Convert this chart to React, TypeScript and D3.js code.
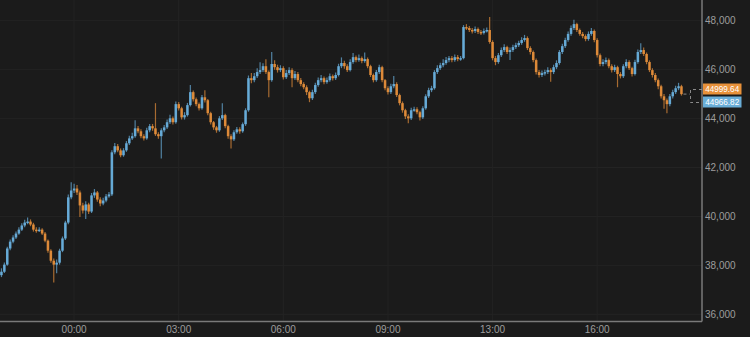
import React from "react";
import * as d3 from "d3";

const closes = [
  37740,38030,38690,38970,39140,39300,39460,39630,39750,39790,
  39670,39460,39420,39460,39300,39010,38600,38190,38030,38110,
  38600,39100,39750,40780,41060,41140,40980,40450,40240,40490,
  40200,40860,40980,40690,40530,40650,40820,40900,42620,42870,
  42700,42500,42700,42990,43190,43280,43600,43480,43280,43190,
  43520,43690,43600,43360,43280,43520,43640,43850,44010,43850,
  44590,44420,44050,44140,44550,45080,44790,44590,44420,44870,
  44750,44220,43850,43640,43520,44010,44140,43690,43280,43150,
  43440,43560,43480,43770,44340,45650,45570,45730,45900,45980,
  46140,45900,45570,46230,46100,45980,46060,45690,45860,45980,
  45650,45820,45570,45410,45280,45080,44830,45080,45370,45570,
  45650,45490,45570,45730,45650,45780,46140,46270,46140,45980,
  46310,46510,46390,46470,46350,46430,46140,45780,45570,45900,
  46100,45570,45240,45080,45320,45410,44960,44630,44340,44090,
  44010,44340,44380,44260,44050,44420,44910,45160,45240,45900,
  46060,46180,46270,46390,46470,46390,46510,46430,46470,47740,
  47700,47620,47580,47660,47540,47500,47580,47620,47130,46470,
  46310,46590,46800,46920,46720,46800,46920,47000,47090,47210,
  47290,46880,46720,46390,45900,45780,45860,45900,45980,45900,
  46100,46270,46720,46960,47210,47460,47700,47860,47620,47460,
  47370,47250,47460,47580,47210,46590,46230,46310,46390,46140,
  45980,46100,45820,45730,46140,46310,46060,45820,46310,46720,
  46800,46640,46310,45980,45780,45570,45320,44910,44750,44590,
  44910,45080,45240,45320,44999.64,
];

const firstOpen = 37600;

const highs = [
  37880,38120,38760,39060,39230,39380,39560,39720,39860,39960,
  39880,39740,39560,39560,39520,39360,39060,38660,38280,38240,
  38680,39180,39820,40900,41400,41340,41280,41060,40560,40620,
  40560,40960,41120,41040,40780,40760,40920,41000,42700,43000,
  42960,42780,42790,43080,43300,43420,43930,43700,43560,43360,
  43620,43780,43780,44630,43440,43600,43740,43960,44160,44080,
  44700,44680,44480,44260,44640,45370,45150,44860,44660,44960,
  45160,44800,44280,43900,43700,44100,44630,44200,43750,43360,
  43520,43660,43640,43840,44420,45760,45860,45860,46060,46300,
  46260,46420,45960,46720,46380,46200,46180,46140,45980,46100,
  46060,45940,45900,45660,45480,45360,45140,45180,45460,45680,
  45780,45720,45680,45840,45800,45880,46240,46500,46360,46220,
  46420,46680,46580,46620,46540,46700,46500,46200,45840,45980,
  46200,46160,45620,45320,45420,45740,45480,45020,44700,44400,
  44180,44440,44480,44460,44320,44500,44990,45260,45340,45980,
  46180,46280,46420,46520,46560,46560,46620,46600,46560,47820,
  47860,47780,47700,47760,47720,47620,47680,47720,48150,47200,
  46560,46680,46900,47040,46980,46900,47020,47100,47180,47320,
  47420,47360,46960,46780,46460,45980,45960,46000,46100,46060,
  46200,46380,46800,47060,47300,47560,47800,48040,47920,47680,
  47540,47440,47560,47700,47640,47280,46660,46420,46500,46460,
  46220,46200,46160,45900,46220,46420,46380,46120,46400,46820,
  47080,46900,46700,46380,46060,45860,45640,45380,45000,44820,
  45000,45180,45340,45460,45380,
];

const lows = [
  37520,37690,37980,38620,38900,39080,39250,39400,39560,39680,
  39600,39380,39330,39360,39240,38940,38520,38110,37300,37680,
  38030,38540,39040,39680,40700,40960,40880,39980,40120,39900,
  40100,40140,40760,40600,40420,40460,40580,40760,40840,42540,
  42620,42420,42440,42640,42920,43120,43220,43400,43200,43100,
  43130,43440,43500,43290,43180,42370,43440,43570,43780,43760,
  43790,44330,43960,43960,44080,44490,44700,44500,44330,44360,
  44660,44140,43760,43540,43420,43460,43940,43600,43180,42780,
  43080,43380,43380,43420,43700,44280,45440,45480,45660,45820,
  45900,45820,44870,45500,46000,45880,45900,45600,45620,45780,
  45280,45580,45480,45320,45200,44960,44670,44760,45000,45300,
  45480,45400,45420,45500,45560,45580,45720,46060,46040,45900,
  45920,46240,46300,46320,46260,46280,46060,45700,45480,45500,
  45820,45480,45160,44980,45000,45240,44880,44540,44240,43980,
  43810,43940,44280,44180,43920,43980,44360,44840,45080,45180,
  45820,45980,46100,46200,46300,46300,46320,46340,46360,46420,
  47620,47540,47480,47500,47460,47420,47440,47520,47060,46380,
  46180,46240,46520,46720,46640,46390,46720,46840,46920,47020,
  47140,46800,46620,46300,45800,45680,45700,45760,45820,45500,
  45820,46020,46200,46640,46880,47140,47380,47620,47540,47380,
  47280,47160,47180,47380,47120,46500,46140,46140,46220,46060,
  45880,45900,45280,45640,45660,46060,45980,45720,45760,46240,
  46640,46560,46220,45900,45680,45480,45200,44820,44400,44220,
  44500,44820,45000,45160,44940,
];

const yTicks = [36000, 38000, 40000, 42000, 44000, 46000, 48000];
const xTickIndex = [25, 61, 97, 133, 169, 205];
const xTickLabels = ["00:00", "03:00", "06:00", "09:00", "13:00", "16:00"];
const lastPrice = 44999.64;
const secondPrice = 44966.82;

const W = 750;
const H = 337;
const UP = "#68aedb";
const DOWN = "#e38d3a";

export default function App() {
  const n = closes.length;
  const opens = closes.map((c, i) => (i === 0 ? firstOpen : closes[i - 1]));
  const x = d3.scaleBand<number>().domain(d3.range(n)).range([0, n * 2.906]).paddingInner(0.12).paddingOuter(0.06);
  const y = d3.scaleLinear().domain([36000, 48000]).range([314.3, 20.7]);
  const bw = x.bandwidth();
  const cx = (i: number) => (x(i) as number) + bw / 2;
  const axisX = 702;
  const axisY = 321.5;
  const fmt = d3.format(",");
  const lastX = cx(n - 1);
  const lastY = y(lastPrice);

  return (
    <svg width={W} height={H} style={{ position: "fixed", left: 0, top: 0, background: "#1b1b1b" }}
      fontFamily="'Liberation Sans', Arial, Helvetica, sans-serif">
      <rect x={0} y={0} width={W} height={H} fill="#1b1b1b" />
      {yTicks.map((t) => (
        <line key={"gy" + t} x1={0} x2={axisX} y1={y(t)} y2={y(t)} stroke="#232323" strokeWidth={1} />
      ))}
      {xTickIndex.map((k) => (
        <line key={"gx" + k} x1={cx(k)} x2={cx(k)} y1={0} y2={axisY} stroke="#232323" strokeWidth={1} />
      ))}
      {closes.map((c, i) => {
        const o = opens[i];
        const up = c >= o;
        const col = up ? UP : DOWN;
        const hi = Math.max(highs[i], o, c);
        const lo = Math.min(lows[i], o, c);
        const top = y(Math.max(o, c));
        const bot = y(Math.min(o, c));
        return (
          <g key={i}>
            <line x1={cx(i)} x2={cx(i)} y1={y(hi)} y2={y(lo)} stroke={col} strokeOpacity={0.7} strokeWidth={1.2} />
            <rect x={cx(i) - bw / 2} y={top} width={bw} height={Math.max(1.5, bot - top)} fill={col} fillOpacity={0.95} />
          </g>
        );
      })}
      <line x1={axisX} x2={axisX} y1={0} y2={axisY} stroke="#7a7a7a" strokeWidth={1.5} />
      <line x1={0} x2={axisX} y1={axisY} y2={axisY} stroke="#7a7a7a" strokeWidth={1.5} />
      {yTicks.map((t) => (
        <text key={"ty" + t} x={705} y={y(t)} dy="0.35em" fontSize={10} fill="#9d9d9d">{fmt(t)}</text>
      ))}
      {xTickIndex.map((k, j) => (
        <text key={"tx" + k} x={cx(k)} y={332.5} textAnchor="middle" fontSize={10} fill="#9d9d9d">{xTickLabels[j]}</text>
      ))}
      <line x1={lastX + 2} x2={690} y1={lastY} y2={lastY} stroke="#8a8a8a" strokeDasharray="3,3" strokeWidth={1} />
      <path d={`M702,89.5 H690.5 V102.5 H702`} fill="none" stroke="#8a8a8a" strokeDasharray="3,3" strokeWidth={1} />
      <rect x={703} y={83.5} width={38.5} height={11} fill="#e8913a" />
      <text x={722.2} y={89.2} dy="0.35em" textAnchor="middle" fontSize={9} textLength={34} lengthAdjust="spacingAndGlyphs" fill="#ffffff">{lastPrice.toFixed(2)}</text>
      <rect x={703} y={96.5} width={38.5} height={11} fill="#6aaed8" />
      <text x={722.2} y={102.2} dy="0.35em" textAnchor="middle" fontSize={9} textLength={34} lengthAdjust="spacingAndGlyphs" fill="#ffffff">{secondPrice.toFixed(2)}</text>
    </svg>
  );
}
